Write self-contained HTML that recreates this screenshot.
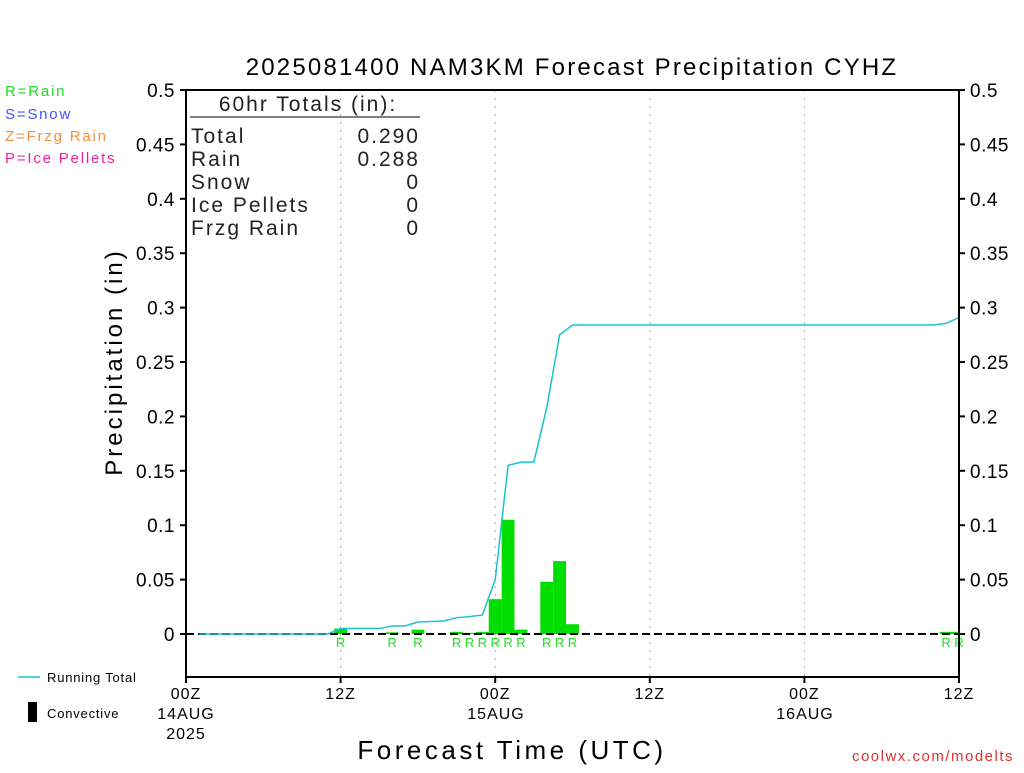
<!DOCTYPE html>
<html><head><meta charset="utf-8"><style>
body{margin:0;background:#fff}
svg{font-family:"Liberation Sans",sans-serif}
</style></head><body>
<svg id="chart" width="1024" height="768" xmlns="http://www.w3.org/2000/svg">
<rect width="1024" height="768" fill="#fff"/>
<text x="572" y="75" font-size="24" letter-spacing="2.2" text-anchor="middle" fill="#000">2025081400 NAM3KM Forecast Precipitation CYHZ</text>
<g font-size="15" letter-spacing="1.8">
<text x="5" y="96" fill="#22dd22">R=Rain</text>
<text x="5" y="119" fill="#4455ff">S=Snow</text>
<text x="5" y="141" fill="#f09040">Z=Frzg Rain</text>
<text x="5" y="163" fill="#f0209a">P=Ice Pellets</text>
</g>
<g id="grid"></g>
<g id="bars"></g>
<line x1="186" y1="634" x2="959" y2="634" stroke="#000" stroke-width="2" stroke-dasharray="8,4"/>
<polyline id="total" fill="none" stroke="#19c3d0" stroke-width="1.5"/>
<g id="rlabels" font-size="13" fill="#22dd22" text-anchor="middle"></g>
<rect x="186" y="90" width="773" height="587" fill="none" stroke="#000" stroke-width="2"/>
<g id="yticks" font-size="19" letter-spacing="0.5" fill="#000"></g>
<g id="xticks" font-size="16" letter-spacing="1" fill="#000" text-anchor="middle"></g>
<text x="186" y="719" font-size="16" letter-spacing="1" text-anchor="middle">14AUG</text>
<text x="186" y="739" font-size="16" letter-spacing="1" text-anchor="middle">2025</text>
<text x="496" y="719" font-size="16" letter-spacing="1" text-anchor="middle">15AUG</text>
<text x="805" y="719" font-size="16" letter-spacing="1" text-anchor="middle">16AUG</text>
<text transform="translate(122,362) rotate(-90)" font-size="24" letter-spacing="3" text-anchor="middle">Precipitation (in)</text>
<text x="512" y="759" font-size="26" letter-spacing="3.5" text-anchor="middle">Forecast Time (UTC)</text>
<g font-size="21" letter-spacing="2" fill="#222">
<text x="308" y="111" text-anchor="middle">60hr Totals (in):</text>
<line x1="190" y1="117" x2="420" y2="117" stroke="#000" stroke-width="1"/>
<text x="191" y="143">Total</text><text x="420" y="143" text-anchor="end">0.290</text>
<text x="191" y="166">Rain</text><text x="420" y="166" text-anchor="end">0.288</text>
<text x="191" y="189">Snow</text><text x="420" y="189" text-anchor="end">0</text>
<text x="191" y="212">Ice Pellets</text><text x="420" y="212" text-anchor="end">0</text>
<text x="191" y="235">Frzg Rain</text><text x="420" y="235" text-anchor="end">0</text>
</g>
<g font-size="13" letter-spacing="0.8">
<line x1="18" y1="677" x2="40" y2="677" stroke="#19c3d0" stroke-width="1.5"/>
<text x="47" y="682">Running Total</text>
<rect x="28" y="702" width="9" height="20" fill="#000"/>
<text x="47" y="718">Convective</text>
</g>
<text x="1014" y="761" font-size="15" letter-spacing="1.5" fill="#e03030" text-anchor="end">coolwx.com/modelts</text>
</svg>
<script>
const barHours=[12,16,18,21,22,23,24,25,26,28,29,30,59,60];
const barValues=[0.005,0.0015,0.004,0.002,0.001,0.002,0.032,0.105,0.004,0.048,0.067,0.009,0.002,0.002];
const totalHours=[1,11,12,15,16,17,18,20,21,22,23,24,25,26,27,28,29,30,58,59,60];
const totalValues=[0,0,0.005,0.005,0.0074,0.0074,0.011,0.012,0.015,0.016,0.0175,0.0497,0.155,0.158,0.158,0.208,0.275,0.284,0.284,0.2855,0.291];
const yTicks=[0,0.05,0.1,0.15,0.2,0.25,0.3,0.35,0.4,0.45,0.5];
const xTickHours=[0,12,24,36,48,60];
const xTickLabels=["00Z","12Z","00Z","12Z","00Z","12Z"];
const NS="http://www.w3.org/2000/svg";
const xs=h=>186+h*(773/60);
const ys=v=>634-v*1088;
function mk(tag,attrs,parent){const e=document.createElementNS(NS,tag);for(const k in attrs)e.setAttribute(k,attrs[k]);parent.appendChild(e);return e;}
const grid=document.getElementById('grid');
xTickHours.forEach(h=>{if(h>0&&h<60){const l=mk('line',{x1:xs(h),x2:xs(h),y1:90,y2:677,stroke:'#aaa','stroke-dasharray':'2,6'},grid);

}});
const bars=document.getElementById('bars');
const rl=document.getElementById('rlabels');
barHours.forEach((h,i)=>{const x0=Math.max(186,xs(h)-6.44),x1=Math.min(959,xs(h)+6.44);
const r=mk('rect',{x:x0,y:ys(barValues[i]),width:x1-x0,height:634-ys(barValues[i]),fill:'#00dd00'},bars);


const t=mk('text',{x:xs(h),y:647},rl);t.textContent='R';

});
document.getElementById('total').setAttribute('points',totalHours.map((h,i)=>xs(h)+','+ys(totalValues[i])).join(' '));
const yt=document.getElementById('yticks');
yTicks.forEach(v=>{const y=ys(v);
mk('line',{x1:180,x2:186,y1:y,y2:y,stroke:'#000','stroke-width':2},yt);
mk('line',{x1:959,x2:965,y1:y,y2:y,stroke:'#000','stroke-width':2},yt);
const a=mk('text',{x:175,y:y+7,'text-anchor':'end'},yt);a.textContent=String(v);


const b=mk('text',{x:970,y:y+7},yt);b.textContent=String(v);

});
const xt=document.getElementById('xticks');
xTickHours.forEach((h,i)=>{mk('line',{x1:xs(h),x2:xs(h),y1:677,y2:683,stroke:'#000','stroke-width':2},xt);
const t=mk('text',{x:xs(h),y:699},xt);t.textContent=xTickLabels[i];

});
</script>
</body></html>
